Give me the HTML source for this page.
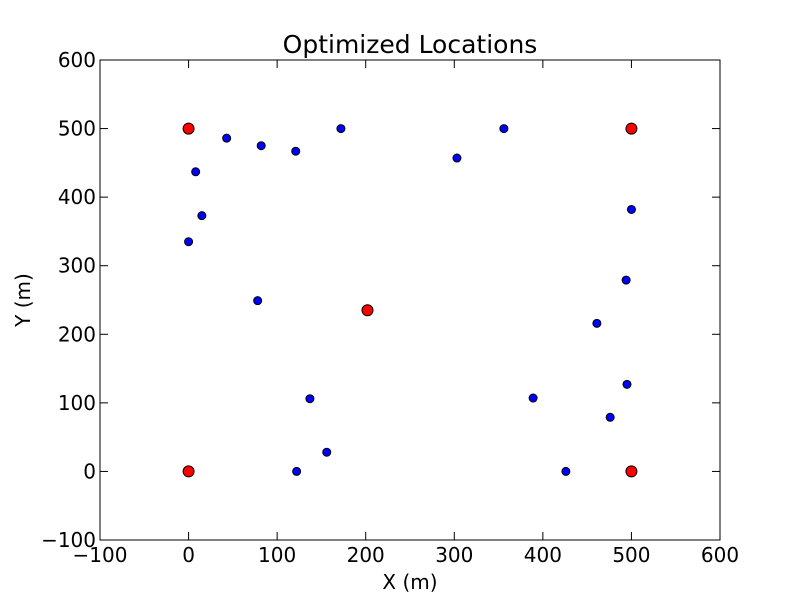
<!DOCTYPE html>
<html><head><meta charset="utf-8"><style>
body{margin:0;background:#fff;}
svg text{font-family:"DejaVu Sans","Liberation Sans",sans-serif;fill:#000;}
</style></head><body>
<svg id="chart" width="800" height="600" xmlns="http://www.w3.org/2000/svg">
<rect width="800" height="600" fill="#fff"/>
<g id="marks"></g>
<rect x="100" y="60" width="620" height="480" fill="none" stroke="#000" stroke-width="1"/>
<g id="ticks"></g>
<text x="410" y="53" font-size="25" text-anchor="middle">Optimized Locations</text>
<text x="410" y="589" font-size="20" text-anchor="middle">X (m)</text>
<text x="30" y="300" font-size="20" text-anchor="middle" transform="rotate(-90 30 300)">Y (m)</text>
</svg>
<script>
const xTicks=[-100,0,100,200,300,400,500,600];
const yTicks=[-100,0,100,200,300,400,500,600];
const blueX=[0,8,15,43,82,121,172,78,137,156,122,303,356,500,494,461,495,389,476,426];
const blueY=[335,437,373,486,475,467,500,249,106,28,0,457,500,382,279,216,127,107,79,0];
const redX=[0,500,202,0,500];
const redY=[500,500,235,0,0];
const NS="http://www.w3.org/2000/svg";
const sx=v=>100+(v+100)*620/700;
const sy=v=>540-(v+100)*480/700;
const marks=document.getElementById('marks');
const ticks=document.getElementById('ticks');
function mk(t,a,p){const e=document.createElementNS(NS,t);for(const k in a)e.setAttribute(k,a[k]);p.appendChild(e);return e;}
xTicks.forEach(v=>{
  const g=mk('g',{},ticks);
  
  
  const x=sx(v);
  mk('line',{x1:x,x2:x,y1:540,y2:532,stroke:'#000'},g);
  mk('line',{x1:x,x2:x,y1:60,y2:68,stroke:'#000'},g);
  const t=mk('text',{x:x,y:562,'font-size':20,'text-anchor':'middle'},g);
  t.textContent=(v<0?'\u2212'+(-v):v);
});
yTicks.forEach(v=>{
  const g=mk('g',{},ticks);
  
  
  const y=sy(v);
  mk('line',{x1:100,x2:108,y1:y,y2:y,stroke:'#000'},g);
  mk('line',{x1:720,x2:712,y1:y,y2:y,stroke:'#000'},g);
  const t=mk('text',{x:96,y:y+7,'font-size':20,'text-anchor':'end'},g);
  t.textContent=(v<0?'\u2212'+(-v):v);
});
blueX.forEach((v,i)=>{
  const c=mk('circle',{cx:sx(v),cy:sy(blueY[i]),r:4,fill:'#0000ff',stroke:'#000','stroke-width':1},marks);
  
  
});
redX.forEach((v,i)=>{
  const c=mk('circle',{cx:sx(v),cy:sy(redY[i]),r:5.5,fill:'#ff0000',stroke:'#000','stroke-width':1},marks);
  
  
});
</script>
</body></html>
